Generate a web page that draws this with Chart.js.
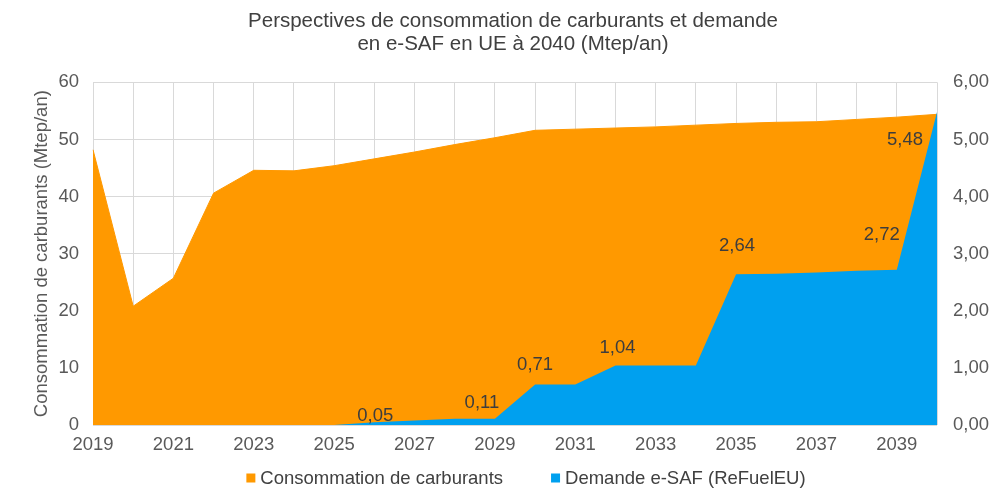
<!DOCTYPE html>
<html lang="fr">
<head>
<meta charset="utf-8">
<title>Perspectives de consommation de carburants et demande en e-SAF</title>
<script src="https://cdn.jsdelivr.net/npm/chart.js@4/dist/chart.umd.min.js"></script>
<style>
  html, body { margin: 0; padding: 0; background: #ffffff; }
  #wrap { width: 996px; height: 492px; }
</style>
</head>
<body>
<div id="wrap"><canvas id="chart" width="996" height="492"></canvas></div>
<script>
// Years on the horizontal axis
const years = [2019, 2020, 2021, 2022, 2023, 2024, 2025, 2026, 2027, 2028, 2029,
               2030, 2031, 2032, 2033, 2034, 2035, 2036, 2037, 2038, 2039, 2040];

// Fuel consumption, Mtep/an (left axis)
const fuelConsumption = [48.2, 20.8, 25.7, 40.6, 44.6, 44.5, 45.4, 46.6, 47.8, 49.1, 50.3,
                         51.6, 51.8, 52.0, 52.2, 52.5, 52.8, 53.0, 53.1, 53.5, 53.9, 54.4];

// e-SAF demand under ReFuelEU, Mtep/an (right axis)
const esafDemand = [0, 0, 0, 0, 0, 0, 0, 0.05, 0.08, 0.11, 0.11,
                    0.71, 0.71, 1.04, 1.04, 1.04, 2.64, 2.65, 2.67, 2.70, 2.72, 5.48];

// Years whose e-SAF value is printed on the chart
const labelledYears = [2026, 2029, 2030, 2032, 2035, 2039, 2040];

// Years shown as tick labels on the horizontal axis
const xTickYears = [2019, 2021, 2023, 2025, 2027, 2029, 2031, 2033, 2035, 2037, 2039];

const seriesNames = ['Consommation de carburants', 'Demande e-SAF (ReFuelEU)'];
const chartTitle = ['Perspectives de consommation de carburants et demande',
                    'en e-SAF en UE à 2040 (Mtep/an)'];
const leftAxisTitle = 'Consommation de carburants (Mtep/an)';

const ORANGE = '#FF9900';
const BLUE = '#00A0EF';
const FONT = "'Liberation Sans', Arial, Helvetica, sans-serif";
const TEXT = '#595959';
const GRID = '#d9d9d9';

const frNumber = v => v.toFixed(2).replace('.', ',');

// Prints the selected e-SAF values next to their points
const valueLabels = {
  id: 'valueLabels',
  afterDatasetsDraw(chart, args, opts) {
    const meta = chart.getDatasetMeta(opts.datasetIndex);
    const values = chart.data.datasets[opts.datasetIndex].data;
    const ctx = chart.ctx;
    ctx.save();
    ctx.font = opts.size + 'px ' + FONT;
    ctx.fillStyle = opts.color;
    ctx.textAlign = 'center';
    ctx.textBaseline = 'middle';
    labelledYears.forEach(year => {
      const i = years.indexOf(year);
      const pt = meta.data[i];
      const off = opts.offsets[year] || { dx: 0, dy: -16 };
      ctx.fillText(frNumber(values[i]), pt.x + off.dx, pt.y + off.dy);
    });
    ctx.restore();
  }
};

// Legend row under the axis: square swatches followed by the series names
const squareLegend = {
  id: 'squareLegend',
  afterDraw(chart, args, opts) {
    const ctx = chart.ctx;
    ctx.save();
    ctx.font = opts.size + 'px ' + FONT;
    ctx.textBaseline = 'middle';
    ctx.textAlign = 'left';
    const items = chart.data.datasets.map(ds => ({
      text: ds.label, color: ds.backgroundColor, w: ctx.measureText(ds.label).width
    }));
    const total = items.reduce((s, it) => s + opts.box + opts.gap + it.w, 0) + opts.spacing * (items.length - 1);
    let x = opts.centerX - total / 2;
    items.forEach(it => {
      ctx.fillStyle = it.color;
      ctx.fillRect(x, opts.y - opts.box / 2, opts.box, opts.box);
      ctx.fillStyle = opts.color;
      ctx.fillText(it.text, x + opts.box + opts.gap, opts.y + 1);
      x += opts.box + opts.gap + it.w + opts.spacing;
    });
    ctx.restore();
  }
};

const tickFont = { family: FONT, size: 18.5 };

new Chart(document.getElementById('chart'), {
  type: 'line',
  data: {
    labels: years.map(String),
    datasets: [
      {
        label: seriesNames[0],
        data: fuelConsumption,
        yAxisID: 'y',
        backgroundColor: ORANGE,
        borderColor: ORANGE,
        borderWidth: 1,
        pointRadius: 0,
        tension: 0,
        fill: 'origin',
        order: 2
      },
      {
        label: seriesNames[1],
        data: esafDemand,
        yAxisID: 'y2',
        backgroundColor: BLUE,
        borderColor: BLUE,
        borderWidth: 0,
        pointRadius: 0,
        tension: 0,
        fill: 'origin',
        order: 1
      }
    ]
  },
  options: {
    responsive: false,
    animation: false,
    devicePixelRatio: 1,
    layout: { padding: { top: 0, left: 30, right: 0, bottom: 30 } },
    plugins: {
      legend: { display: false },
      tooltip: { enabled: false },
      title: {
        display: true,
        text: chartTitle,
        color: '#404040',
        font: { family: FONT, size: 20.5, weight: 'normal', lineHeight: 1.13 },
        padding: { top: 10, bottom: 26 }
      },
      valueLabels: {
        datasetIndex: 1,
        size: 18.5,
        color: '#3d3d3d',
        offsets: {
          2026: { dx: 1, dy: -6 },
          2029: { dx: -13, dy: -16 },
          2030: { dx: 0, dy: -20 },
          2032: { dx: 2, dy: -18 },
          2035: { dx: 1, dy: -28 },
          2039: { dx: -15, dy: -35 },
          2040: { dx: -32, dy: 28 }
        }
      },
      squareLegend: {
        centerX: 526, y: 478, size: 18.5, box: 9, gap: 5, spacing: 48, color: '#404040'
      }
    },
    scales: {
      x: {
        type: 'category',
        offset: false,
        grid: { color: GRID, drawTicks: false },
        border: { display: false },
        ticks: {
          autoSkip: false, maxRotation: 0, padding: 9, color: TEXT, font: tickFont,
          callback: (v, i) => xTickYears.includes(years[i]) ? String(years[i]) : ''
        },
        afterFit: s => { s.height = 37; }
      },
      y: {
        position: 'left',
        min: 0, max: 60,
        grid: { color: GRID, drawTicks: false },
        border: { display: false },
        ticks: { stepSize: 10, padding: 14, color: TEXT, font: tickFont },
        title: {
          display: true,
          text: leftAxisTitle,
          color: TEXT,
          font: { family: FONT, size: 18.5, lineHeight: 1.2 },
          padding: { top: 1, bottom: 0 }
        },
        afterFit: s => { s.width = 63; }
      },
      y2: {
        position: 'right',
        min: 0, max: 6,
        grid: { display: false, drawTicks: false },
        border: { display: false },
        ticks: { stepSize: 1, padding: 16, color: TEXT, font: tickFont, callback: v => frNumber(v) },
        afterFit: s => { s.width = 59; }
      }
    }
  },
  plugins: [valueLabels, squareLegend]
});
</script>
</body>
</html>
